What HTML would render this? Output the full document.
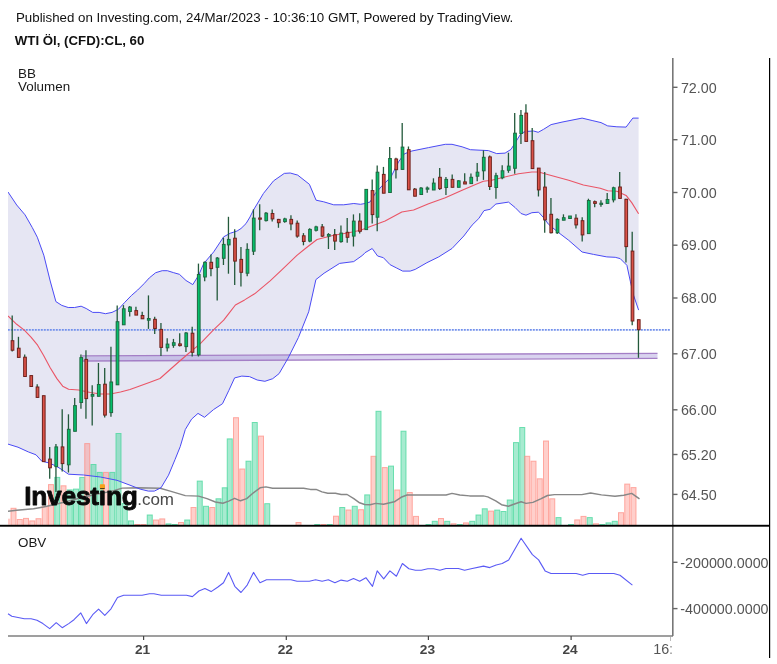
<!DOCTYPE html>
<html lang="de"><head><meta charset="utf-8"><title>WTI Öl, (CFD):CL, 60</title>
<style>
html,body{margin:0;padding:0;background:#fff;}
body{width:777px;height:664px;overflow:hidden;font-family:"Liberation Sans",Arial,sans-serif;}
svg{display:block;}
text{font-family:"Liberation Sans",Arial,sans-serif;}
.ax{fill:#555;font-size:14.3px;}
.day{fill:#444;font-size:13.7px;font-weight:bold;}
.lg{fill:#1a1a1a;font-size:13.4px;}
</style></head><body>
<svg width="777" height="664" viewBox="0 0 777 664">
<rect x="0" y="0" width="777" height="664" fill="#ffffff"/>
<defs><clipPath id="cp"><rect x="8" y="58" width="664" height="467"/></clipPath>
<clipPath id="cpx"><rect x="0" y="636" width="671.5" height="28"/></clipPath>
<clipPath id="cpy"><rect x="673" y="58" width="96" height="600"/></clipPath></defs>
<text x="16" y="21.6" font-size="13.3px" fill="#111">Published on Investing.com, 24/Mar/2023 - 10:36:10 GMT, Powered by TradingView.</text>
<text x="14.8" y="44.5" font-size="13.25px" font-weight="bold" fill="#111">WTI Öl, (CFD):CL, 60</text>
<g clip-path="url(#cp)">
<polygon points="8.0,192.0 16.7,205.0 25.0,214.8 32.2,227.4 37.3,237.2 43.8,255.2 50.2,281.0 55.9,301.6 61.8,305.4 68.2,307.5 74.6,307.5 81.1,306.2 86.2,308.5 92.7,312.4 99.1,312.4 105.5,313.7 112.0,312.4 118.4,309.3 124.8,302.3 131.3,295.6 137.7,290.0 144.1,283.6 149.3,277.9 155.7,272.7 162.2,270.7 167.3,270.7 173.7,272.7 179.4,274.3 186.0,280.5 192.8,284.6 198.6,275.3 203.7,263.6 213.7,251.9 223.7,236.8 230.4,233.2 237.1,231.0 241.0,228.5 246.0,223.6 250.0,217.0 253.4,210.2 263.4,193.5 273.5,180.9 284.3,173.4 290.2,173.0 297.7,175.1 309.4,184.3 316.1,200.2 323.7,201.8 333.7,204.8 343.7,204.8 353.8,203.5 360.5,204.3 365.0,203.5 370.0,202.0 375.1,193.7 381.8,186.1 391.0,176.9 398.5,161.9 404.4,153.8 411.9,151.0 428.6,147.6 445.3,144.3 452.0,144.3 462.1,146.8 470.4,149.7 480.0,150.2 488.4,150.6 496.7,153.6 505.1,153.1 511.0,149.4 516.8,140.2 521.0,133.5 525.2,131.5 533.6,131.0 538.2,132.3 543.6,129.3 551.1,124.6 562.0,122.1 582.1,118.1 592.1,120.5 601.0,122.6 607.7,125.9 616.9,126.8 626.1,127.1 632.8,118.1 638.6,118.1 638.6,310.1 633.6,295.4 630.3,281.2 626.9,265.3 620.2,258.6 615.2,257.3 606.8,256.9 593.5,254.4 582.1,252.0 568.7,240.3 558.7,232.7 548.6,224.4 543.6,217.7 538.6,212.2 531.9,212.7 526.0,215.2 521.0,213.5 515.2,207.6 508.5,202.1 495.9,204.0 490.1,209.3 484.0,210.6 478.8,218.5 472.1,225.1 463.8,236.0 452.0,248.5 438.7,256.9 426.9,262.7 415.2,269.4 410.2,271.1 402.7,271.1 396.8,268.1 390.1,264.7 383.4,257.7 377.6,256.0 372.2,248.5 365.0,252.7 362.8,255.1 353.7,261.6 339.6,263.4 324.1,273.2 315.9,279.6 308.7,311.8 298.4,337.5 288.1,358.1 279.1,373.6 272.7,378.7 264.9,381.3 257.2,380.0 249.5,376.6 241.8,376.1 234.6,377.9 228.9,390.3 222.5,403.7 213.5,409.6 204.5,417.3 198.0,413.4 191.6,419.1 185.3,429.5 180.2,446.7 175.0,459.6 168.5,475.2 161.0,487.8 154.3,491.1 148.4,491.1 140.1,489.1 130.0,485.2 117.0,480.3 100.4,477.0 83.6,475.0 68.4,474.2 62.2,469.8 56.0,466.0 48.5,462.8 41.8,461.2 36.0,454.8 28.3,451.9 18.0,447.2 8.0,444.1" fill="#e6e6f3"/>
<line x1="7.8" y1="329.8" x2="670" y2="329.8" stroke="#7391ec" stroke-width="1.7" stroke-dasharray="2,1"/>
<polygon points="82,356.2 657.5,353.6 657.5,358 82,360.6" fill="rgba(140,120,205,0.33)"/>
<line x1="82" y1="355.9" x2="657.5" y2="353.4" stroke="#a47fc6" stroke-width="1.35"/>
<line x1="82" y1="361" x2="657.5" y2="358.4" stroke="#a47fc6" stroke-width="1.35"/>
<rect x="8" y="518.7" width="2.2" height="6" fill="rgba(255,140,130,0.45)"/>
<rect x="11.00" y="508.3" width="5.00" height="17.2" fill="rgba(255,140,130,0.42)" stroke="rgba(255,140,130,0.7)" stroke-width="1"/>
<rect x="17.25" y="519.5" width="5.00" height="6.0" fill="rgba(255,140,130,0.42)" stroke="rgba(255,140,130,0.7)" stroke-width="1"/>
<rect x="23.50" y="518.4" width="5.00" height="7.1" fill="rgba(255,140,130,0.42)" stroke="rgba(255,140,130,0.7)" stroke-width="1"/>
<rect x="29.75" y="520.9" width="5.00" height="4.6" fill="rgba(255,140,130,0.42)" stroke="rgba(255,140,130,0.7)" stroke-width="1"/>
<rect x="36.00" y="518.7" width="5.00" height="6.8" fill="rgba(255,140,130,0.42)" stroke="rgba(255,140,130,0.7)" stroke-width="1"/>
<rect x="42.25" y="506.5" width="5.00" height="19.0" fill="rgba(255,140,130,0.42)" stroke="rgba(255,140,130,0.7)" stroke-width="1"/>
<rect x="48.50" y="484.6" width="5.00" height="40.9" fill="rgba(255,140,130,0.42)" stroke="rgba(255,140,130,0.7)" stroke-width="1"/>
<rect x="54.75" y="477.4" width="5.00" height="48.1" fill="rgba(60,210,150,0.45)" stroke="rgba(70,215,155,0.75)" stroke-width="1"/>
<rect x="61.00" y="485.8" width="5.00" height="39.7" fill="rgba(255,140,130,0.42)" stroke="rgba(255,140,130,0.7)" stroke-width="1"/>
<rect x="67.25" y="489.9" width="5.00" height="35.6" fill="rgba(60,210,150,0.45)" stroke="rgba(70,215,155,0.75)" stroke-width="1"/>
<rect x="73.50" y="489.1" width="5.00" height="36.4" fill="rgba(60,210,150,0.45)" stroke="rgba(70,215,155,0.75)" stroke-width="1"/>
<rect x="79.75" y="477.4" width="5.00" height="48.1" fill="rgba(60,210,150,0.45)" stroke="rgba(70,215,155,0.75)" stroke-width="1"/>
<rect x="84.75" y="443.6" width="5.00" height="81.9" fill="rgba(255,140,130,0.42)" stroke="rgba(255,140,130,0.7)" stroke-width="1"/>
<rect x="91.00" y="464.5" width="5.00" height="61.0" fill="rgba(60,210,150,0.45)" stroke="rgba(70,215,155,0.75)" stroke-width="1"/>
<rect x="97.25" y="472.4" width="5.00" height="53.1" fill="rgba(60,210,150,0.45)" stroke="rgba(70,215,155,0.75)" stroke-width="1"/>
<rect x="103.50" y="472.4" width="5.00" height="53.1" fill="rgba(255,140,130,0.42)" stroke="rgba(255,140,130,0.7)" stroke-width="1"/>
<rect x="109.75" y="472.4" width="5.00" height="53.1" fill="rgba(60,210,150,0.45)" stroke="rgba(70,215,155,0.75)" stroke-width="1"/>
<rect x="116.00" y="433.5" width="5.00" height="92.0" fill="rgba(60,210,150,0.45)" stroke="rgba(70,215,155,0.75)" stroke-width="1"/>
<rect x="122.25" y="503.5" width="5.00" height="22.0" fill="rgba(60,210,150,0.45)" stroke="rgba(70,215,155,0.75)" stroke-width="1"/>
<rect x="128.50" y="520.9" width="5.00" height="4.6" fill="rgba(60,210,150,0.45)" stroke="rgba(70,215,155,0.75)" stroke-width="1"/>
<rect x="134.75" y="524.5" width="5.00" height="1.0" fill="rgba(255,140,130,0.42)" stroke="rgba(255,140,130,0.7)" stroke-width="1"/>
<rect x="141.00" y="524.5" width="5.00" height="1.0" fill="rgba(255,140,130,0.42)" stroke="rgba(255,140,130,0.7)" stroke-width="1"/>
<rect x="147.25" y="515.0" width="5.00" height="10.5" fill="rgba(60,210,150,0.45)" stroke="rgba(70,215,155,0.75)" stroke-width="1"/>
<rect x="153.50" y="520.0" width="5.00" height="5.5" fill="rgba(255,140,130,0.42)" stroke="rgba(255,140,130,0.7)" stroke-width="1"/>
<rect x="159.75" y="518.9" width="5.00" height="6.6" fill="rgba(255,140,130,0.42)" stroke="rgba(255,140,130,0.7)" stroke-width="1"/>
<rect x="166.00" y="523.9" width="5.00" height="1.6" fill="rgba(60,210,150,0.45)" stroke="rgba(70,215,155,0.75)" stroke-width="1"/>
<rect x="172.25" y="524.5" width="5.00" height="1.0" fill="rgba(60,210,150,0.45)" stroke="rgba(70,215,155,0.75)" stroke-width="1"/>
<rect x="178.50" y="522.5" width="5.00" height="3.0" fill="rgba(255,140,130,0.42)" stroke="rgba(255,140,130,0.7)" stroke-width="1"/>
<rect x="184.75" y="520.0" width="5.00" height="5.5" fill="rgba(60,210,150,0.45)" stroke="rgba(70,215,155,0.75)" stroke-width="1"/>
<rect x="191.00" y="507.5" width="5.00" height="18.0" fill="rgba(255,140,130,0.42)" stroke="rgba(255,140,130,0.7)" stroke-width="1"/>
<rect x="197.25" y="481.1" width="5.00" height="44.4" fill="rgba(60,210,150,0.45)" stroke="rgba(70,215,155,0.75)" stroke-width="1"/>
<rect x="203.50" y="506.3" width="5.00" height="19.2" fill="rgba(60,210,150,0.45)" stroke="rgba(70,215,155,0.75)" stroke-width="1"/>
<rect x="209.75" y="507.5" width="5.00" height="18.0" fill="rgba(255,140,130,0.42)" stroke="rgba(255,140,130,0.7)" stroke-width="1"/>
<rect x="216.00" y="498.8" width="5.00" height="26.7" fill="rgba(60,210,150,0.45)" stroke="rgba(70,215,155,0.75)" stroke-width="1"/>
<rect x="222.25" y="487.8" width="5.00" height="37.7" fill="rgba(60,210,150,0.45)" stroke="rgba(70,215,155,0.75)" stroke-width="1"/>
<rect x="227.25" y="438.9" width="5.00" height="86.6" fill="rgba(60,210,150,0.45)" stroke="rgba(70,215,155,0.75)" stroke-width="1"/>
<rect x="233.50" y="417.7" width="5.00" height="107.8" fill="rgba(255,140,130,0.42)" stroke="rgba(255,140,130,0.7)" stroke-width="1"/>
<rect x="239.75" y="469.0" width="5.00" height="56.5" fill="rgba(255,140,130,0.42)" stroke="rgba(255,140,130,0.7)" stroke-width="1"/>
<rect x="246.00" y="461.2" width="5.00" height="64.3" fill="rgba(60,210,150,0.45)" stroke="rgba(70,215,155,0.75)" stroke-width="1"/>
<rect x="252.25" y="422.5" width="5.00" height="103.0" fill="rgba(60,210,150,0.45)" stroke="rgba(70,215,155,0.75)" stroke-width="1"/>
<rect x="258.50" y="436.1" width="5.00" height="89.4" fill="rgba(255,140,130,0.42)" stroke="rgba(255,140,130,0.7)" stroke-width="1"/>
<rect x="264.75" y="503.7" width="5.00" height="21.8" fill="rgba(60,210,150,0.45)" stroke="rgba(70,215,155,0.75)" stroke-width="1"/>
<rect x="296.00" y="522.5" width="5.00" height="3.0" fill="rgba(255,140,130,0.42)" stroke="rgba(255,140,130,0.7)" stroke-width="1"/>
<rect x="314.75" y="524.5" width="5.00" height="1.0" fill="rgba(60,210,150,0.45)" stroke="rgba(70,215,155,0.75)" stroke-width="1"/>
<rect x="321.00" y="524.5" width="5.00" height="1.0" fill="rgba(255,140,130,0.42)" stroke="rgba(255,140,130,0.7)" stroke-width="1"/>
<rect x="327.25" y="524.5" width="5.00" height="1.0" fill="rgba(60,210,150,0.45)" stroke="rgba(70,215,155,0.75)" stroke-width="1"/>
<rect x="333.50" y="516.2" width="5.00" height="9.3" fill="rgba(255,140,130,0.42)" stroke="rgba(255,140,130,0.7)" stroke-width="1"/>
<rect x="339.75" y="507.5" width="5.00" height="18.0" fill="rgba(60,210,150,0.45)" stroke="rgba(70,215,155,0.75)" stroke-width="1"/>
<rect x="346.00" y="510.0" width="5.00" height="15.5" fill="rgba(255,140,130,0.42)" stroke="rgba(255,140,130,0.7)" stroke-width="1"/>
<rect x="352.25" y="506.3" width="5.00" height="19.2" fill="rgba(60,210,150,0.45)" stroke="rgba(70,215,155,0.75)" stroke-width="1"/>
<rect x="358.50" y="509.7" width="5.00" height="15.8" fill="rgba(255,140,130,0.42)" stroke="rgba(255,140,130,0.7)" stroke-width="1"/>
<rect x="364.75" y="494.9" width="5.00" height="30.6" fill="rgba(60,210,150,0.45)" stroke="rgba(70,215,155,0.75)" stroke-width="1"/>
<rect x="371.00" y="456.3" width="5.00" height="69.2" fill="rgba(255,140,130,0.42)" stroke="rgba(255,140,130,0.7)" stroke-width="1"/>
<rect x="376.00" y="411.3" width="5.00" height="114.2" fill="rgba(60,210,150,0.45)" stroke="rgba(70,215,155,0.75)" stroke-width="1"/>
<rect x="382.25" y="467.6" width="5.00" height="57.9" fill="rgba(255,140,130,0.42)" stroke="rgba(255,140,130,0.7)" stroke-width="1"/>
<rect x="388.50" y="466.1" width="5.00" height="59.4" fill="rgba(60,210,150,0.45)" stroke="rgba(70,215,155,0.75)" stroke-width="1"/>
<rect x="394.75" y="490.0" width="5.00" height="35.5" fill="rgba(255,140,130,0.42)" stroke="rgba(255,140,130,0.7)" stroke-width="1"/>
<rect x="401.00" y="431.2" width="5.00" height="94.3" fill="rgba(60,210,150,0.45)" stroke="rgba(70,215,155,0.75)" stroke-width="1"/>
<rect x="407.25" y="492.5" width="5.00" height="33.0" fill="rgba(255,140,130,0.42)" stroke="rgba(255,140,130,0.7)" stroke-width="1"/>
<rect x="413.50" y="516.4" width="5.00" height="9.1" fill="rgba(255,140,130,0.42)" stroke="rgba(255,140,130,0.7)" stroke-width="1"/>
<rect x="426.00" y="524.5" width="5.00" height="1.0" fill="rgba(60,210,150,0.45)" stroke="rgba(70,215,155,0.75)" stroke-width="1"/>
<rect x="432.25" y="521.3" width="5.00" height="4.2" fill="rgba(60,210,150,0.45)" stroke="rgba(70,215,155,0.75)" stroke-width="1"/>
<rect x="438.50" y="518.5" width="5.00" height="7.0" fill="rgba(255,140,130,0.42)" stroke="rgba(255,140,130,0.7)" stroke-width="1"/>
<rect x="444.75" y="521.3" width="5.00" height="4.2" fill="rgba(60,210,150,0.45)" stroke="rgba(70,215,155,0.75)" stroke-width="1"/>
<rect x="451.00" y="523.8" width="5.00" height="1.7" fill="rgba(255,140,130,0.42)" stroke="rgba(255,140,130,0.7)" stroke-width="1"/>
<rect x="457.25" y="524.5" width="5.00" height="1.0" fill="rgba(60,210,150,0.45)" stroke="rgba(70,215,155,0.75)" stroke-width="1"/>
<rect x="463.50" y="522.9" width="5.00" height="2.6" fill="rgba(255,140,130,0.42)" stroke="rgba(255,140,130,0.7)" stroke-width="1"/>
<rect x="469.75" y="521.3" width="5.00" height="4.2" fill="rgba(60,210,150,0.45)" stroke="rgba(70,215,155,0.75)" stroke-width="1"/>
<rect x="476.00" y="515.0" width="5.00" height="10.5" fill="rgba(60,210,150,0.45)" stroke="rgba(70,215,155,0.75)" stroke-width="1"/>
<rect x="482.25" y="508.8" width="5.00" height="16.7" fill="rgba(60,210,150,0.45)" stroke="rgba(70,215,155,0.75)" stroke-width="1"/>
<rect x="488.50" y="511.1" width="5.00" height="14.4" fill="rgba(255,140,130,0.42)" stroke="rgba(255,140,130,0.7)" stroke-width="1"/>
<rect x="494.75" y="510.1" width="5.00" height="15.4" fill="rgba(60,210,150,0.45)" stroke="rgba(70,215,155,0.75)" stroke-width="1"/>
<rect x="501.00" y="511.5" width="5.00" height="14.0" fill="rgba(60,210,150,0.45)" stroke="rgba(70,215,155,0.75)" stroke-width="1"/>
<rect x="507.25" y="500.0" width="5.00" height="25.5" fill="rgba(60,210,150,0.45)" stroke="rgba(70,215,155,0.75)" stroke-width="1"/>
<rect x="513.50" y="442.6" width="5.00" height="82.9" fill="rgba(60,210,150,0.45)" stroke="rgba(70,215,155,0.75)" stroke-width="1"/>
<rect x="519.75" y="427.5" width="5.00" height="98.0" fill="rgba(60,210,150,0.45)" stroke="rgba(70,215,155,0.75)" stroke-width="1"/>
<rect x="524.75" y="456.3" width="5.00" height="69.2" fill="rgba(255,140,130,0.42)" stroke="rgba(255,140,130,0.7)" stroke-width="1"/>
<rect x="531.00" y="461.2" width="5.00" height="64.3" fill="rgba(255,140,130,0.42)" stroke="rgba(255,140,130,0.7)" stroke-width="1"/>
<rect x="537.25" y="478.8" width="5.00" height="46.7" fill="rgba(255,140,130,0.42)" stroke="rgba(255,140,130,0.7)" stroke-width="1"/>
<rect x="543.50" y="441.0" width="5.00" height="84.5" fill="rgba(255,140,130,0.42)" stroke="rgba(255,140,130,0.7)" stroke-width="1"/>
<rect x="549.75" y="498.8" width="5.00" height="26.7" fill="rgba(255,140,130,0.42)" stroke="rgba(255,140,130,0.7)" stroke-width="1"/>
<rect x="556.00" y="517.6" width="5.00" height="7.9" fill="rgba(60,210,150,0.45)" stroke="rgba(70,215,155,0.75)" stroke-width="1"/>
<rect x="568.50" y="524.5" width="5.00" height="1.0" fill="rgba(60,210,150,0.45)" stroke="rgba(70,215,155,0.75)" stroke-width="1"/>
<rect x="574.75" y="519.9" width="5.00" height="5.6" fill="rgba(255,140,130,0.42)" stroke="rgba(255,140,130,0.7)" stroke-width="1"/>
<rect x="581.00" y="516.4" width="5.00" height="9.1" fill="rgba(255,140,130,0.42)" stroke="rgba(255,140,130,0.7)" stroke-width="1"/>
<rect x="587.25" y="517.6" width="5.00" height="7.9" fill="rgba(60,210,150,0.45)" stroke="rgba(70,215,155,0.75)" stroke-width="1"/>
<rect x="593.50" y="523.8" width="5.00" height="1.7" fill="rgba(255,140,130,0.42)" stroke="rgba(255,140,130,0.7)" stroke-width="1"/>
<rect x="599.75" y="524.5" width="5.00" height="1.0" fill="rgba(60,210,150,0.45)" stroke="rgba(70,215,155,0.75)" stroke-width="1"/>
<rect x="606.00" y="522.9" width="5.00" height="2.6" fill="rgba(60,210,150,0.45)" stroke="rgba(70,215,155,0.75)" stroke-width="1"/>
<rect x="612.25" y="521.3" width="5.00" height="4.2" fill="rgba(60,210,150,0.45)" stroke="rgba(70,215,155,0.75)" stroke-width="1"/>
<rect x="618.50" y="512.7" width="5.00" height="12.8" fill="rgba(255,140,130,0.42)" stroke="rgba(255,140,130,0.7)" stroke-width="1"/>
<rect x="624.75" y="484.1" width="5.00" height="41.4" fill="rgba(255,140,130,0.42)" stroke="rgba(255,140,130,0.7)" stroke-width="1"/>
<rect x="631.00" y="487.6" width="5.00" height="37.9" fill="rgba(255,140,130,0.42)" stroke="rgba(255,140,130,0.7)" stroke-width="1"/>
<polyline points="8.0,511.2 16.7,510.3 33.5,508.7 43.5,507.0 53.5,504.8 65.0,502.0 80.0,498.0 95.0,494.5 111.3,491.4 122.2,488.1 137.5,487.7 160.2,488.3 170.2,491.1 185.3,495.6 198.6,496.1 207.0,498.6 215.4,502.0 222.9,503.2 228.7,501.1 234.6,498.3 240.5,500.8 246.7,498.6 253.4,492.8 260.1,487.8 265.9,486.9 272.6,488.3 303.6,488.3 310.3,489.4 316.1,489.4 322.0,491.9 327.8,493.3 335.4,493.3 341.2,494.5 347.1,494.5 353.8,498.6 359.6,502.8 364.6,504.5 370.0,504.8 375.7,503.4 383.5,504.3 394.3,501.8 401.1,497.3 407.0,495.0 446.1,495.0 452.0,493.4 459.8,495.0 469.6,495.9 483.3,495.9 487.8,496.9 495.7,500.8 501.5,504.7 508.4,506.3 515.2,503.8 521.1,501.8 526.0,503.4 532.9,502.4 540.7,498.9 547.5,495.5 554.4,494.6 581.8,494.6 590.6,493.0 601.4,494.9 615.0,496.3 623.8,495.3 631.7,493.4 639.5,498.9" fill="none" stroke="#878787" stroke-width="1.45" stroke-linejoin="round"/>
<polyline points="8.0,192.0 16.7,205.0 25.0,214.8 32.2,227.4 37.3,237.2 43.8,255.2 50.2,281.0 55.9,301.6 61.8,305.4 68.2,307.5 74.6,307.5 81.1,306.2 86.2,308.5 92.7,312.4 99.1,312.4 105.5,313.7 112.0,312.4 118.4,309.3 124.8,302.3 131.3,295.6 137.7,290.0 144.1,283.6 149.3,277.9 155.7,272.7 162.2,270.7 167.3,270.7 173.7,272.7 179.4,274.3 186.0,280.5 192.8,284.6 198.6,275.3 203.7,263.6 213.7,251.9 223.7,236.8 230.4,233.2 237.1,231.0 241.0,228.5 246.0,223.6 250.0,217.0 253.4,210.2 263.4,193.5 273.5,180.9 284.3,173.4 290.2,173.0 297.7,175.1 309.4,184.3 316.1,200.2 323.7,201.8 333.7,204.8 343.7,204.8 353.8,203.5 360.5,204.3 365.0,203.5 370.0,202.0 375.1,193.7 381.8,186.1 391.0,176.9 398.5,161.9 404.4,153.8 411.9,151.0 428.6,147.6 445.3,144.3 452.0,144.3 462.1,146.8 470.4,149.7 480.0,150.2 488.4,150.6 496.7,153.6 505.1,153.1 511.0,149.4 516.8,140.2 521.0,133.5 525.2,131.5 533.6,131.0 538.2,132.3 543.6,129.3 551.1,124.6 562.0,122.1 582.1,118.1 592.1,120.5 601.0,122.6 607.7,125.9 616.9,126.8 626.1,127.1 632.8,118.1 638.6,118.1" fill="none" stroke="#4a4af5" stroke-width="1.0" stroke-linejoin="round"/>
<polyline points="8.0,444.1 18.0,447.2 28.3,451.9 36.0,454.8 41.8,461.2 48.5,462.8 56.0,466.0 62.2,469.8 68.4,474.2 83.6,475.0 100.4,477.0 117.0,480.3 130.0,485.2 140.1,489.1 148.4,491.1 154.3,491.1 161.0,487.8 168.5,475.2 175.0,459.6 180.2,446.7 185.3,429.5 191.6,419.1 198.0,413.4 204.5,417.3 213.5,409.6 222.5,403.7 228.9,390.3 234.6,377.9 241.8,376.1 249.5,376.6 257.2,380.0 264.9,381.3 272.7,378.7 279.1,373.6 288.1,358.1 298.4,337.5 308.7,311.8 315.9,279.6 324.1,273.2 339.6,263.4 353.7,261.6 362.8,255.1 365.0,252.7 372.2,248.5 377.6,256.0 383.4,257.7 390.1,264.7 396.8,268.1 402.7,271.1 410.2,271.1 415.2,269.4 426.9,262.7 438.7,256.9 452.0,248.5 463.8,236.0 472.1,225.1 478.8,218.5 484.0,210.6 490.1,209.3 495.9,204.0 508.5,202.1 515.2,207.6 521.0,213.5 526.0,215.2 531.9,212.7 538.6,212.2 543.6,217.7 548.6,224.4 558.7,232.7 568.7,240.3 582.1,252.0 593.5,254.4 606.8,256.9 615.2,257.3 620.2,258.6 626.9,265.3 630.3,281.2 633.6,295.4 638.6,310.1" fill="none" stroke="#4a4af5" stroke-width="1.0" stroke-linejoin="round"/>
<polyline points="8.0,315.9 16.7,324.3 24.3,330.1 31.0,337.1 37.6,345.2 43.5,355.2 50.2,367.8 56.9,378.6 62.7,386.2 68.6,389.2 78.6,390.0 90.3,392.5 100.4,394.0 110.4,394.0 120.5,392.0 130.0,389.5 149.3,382.4 160.0,378.5 178.6,362.0 187.9,354.0 200.3,343.6 213.5,329.8 223.7,320.2 229.5,312.6 235.4,305.0 244.6,299.9 254.6,293.8 270.1,280.9 281.8,269.9 296.9,255.4 306.0,248.0 317.0,239.5 333.7,235.3 348.8,232.8 360.5,230.3 371.7,225.9 385.1,220.9 401.8,212.0 413.6,210.0 428.6,203.7 445.3,197.8 462.1,190.3 475.5,184.5 483.4,181.2 491.7,180.3 501.8,177.8 518.5,173.7 531.9,172.0 538.6,172.0 550.3,175.3 568.7,180.3 583.4,185.0 600.2,188.2 607.7,190.8 616.9,191.2 626.1,195.4 631.9,202.9 638.6,213.8" fill="none" stroke="#ea5566" stroke-width="1.1" stroke-linejoin="round"/>
<line x1="12.20" y1="315.4" x2="12.20" y2="351.5" stroke="#23593b" stroke-width="1.3"/>
<rect x="11.15" y="340.7" width="2.7" height="9.5" fill="#dc5248" stroke="#6e211c" stroke-width="1"/>
<line x1="18.45" y1="336.8" x2="18.45" y2="357.4" stroke="#23593b" stroke-width="1.3"/>
<rect x="17.40" y="348.2" width="2.7" height="9.2" fill="#dc5248" stroke="#6e211c" stroke-width="1"/>
<line x1="24.70" y1="354.4" x2="24.70" y2="376.5" stroke="#23593b" stroke-width="1.3"/>
<rect x="23.65" y="357.2" width="2.7" height="19.3" fill="#dc5248" stroke="#6e211c" stroke-width="1"/>
<line x1="30.95" y1="375.6" x2="30.95" y2="386.5" stroke="#23593b" stroke-width="1.3"/>
<rect x="29.90" y="375.6" width="2.7" height="10.9" fill="#dc5248" stroke="#6e211c" stroke-width="1"/>
<line x1="37.20" y1="384.2" x2="37.20" y2="397.4" stroke="#23593b" stroke-width="1.3"/>
<rect x="36.15" y="387.0" width="2.7" height="10.4" fill="#dc5248" stroke="#6e211c" stroke-width="1"/>
<line x1="43.45" y1="395.7" x2="43.45" y2="461.6" stroke="#23593b" stroke-width="1.3"/>
<rect x="42.40" y="395.7" width="2.7" height="65.9" fill="#dc5248" stroke="#6e211c" stroke-width="1"/>
<line x1="49.70" y1="446.9" x2="49.70" y2="478.7" stroke="#23593b" stroke-width="1.3"/>
<rect x="48.65" y="459.1" width="2.7" height="8.7" fill="#dc5248" stroke="#6e211c" stroke-width="1"/>
<line x1="55.95" y1="443.9" x2="55.95" y2="492.0" stroke="#23593b" stroke-width="1.3"/>
<rect x="54.90" y="446.9" width="2.7" height="19.7" fill="#04bf6b" stroke="#1e6940" stroke-width="1"/>
<line x1="62.20" y1="409.2" x2="62.20" y2="471.5" stroke="#23593b" stroke-width="1.3"/>
<rect x="61.15" y="446.9" width="2.7" height="16.7" fill="#dc5248" stroke="#6e211c" stroke-width="1"/>
<line x1="68.45" y1="414.3" x2="68.45" y2="472.5" stroke="#23593b" stroke-width="1.3"/>
<rect x="67.40" y="429.3" width="2.7" height="35.5" fill="#04bf6b" stroke="#1e6940" stroke-width="1"/>
<line x1="74.70" y1="397.9" x2="74.70" y2="431.3" stroke="#23593b" stroke-width="1.3"/>
<rect x="73.65" y="405.6" width="2.7" height="25.7" fill="#04bf6b" stroke="#1e6940" stroke-width="1"/>
<line x1="80.95" y1="354.4" x2="80.95" y2="408.7" stroke="#23593b" stroke-width="1.3"/>
<rect x="79.90" y="357.6" width="2.7" height="44.9" fill="#04bf6b" stroke="#1e6940" stroke-width="1"/>
<line x1="85.95" y1="350.2" x2="85.95" y2="418.8" stroke="#23593b" stroke-width="1.3"/>
<rect x="84.90" y="359.4" width="2.7" height="39.2" fill="#dc5248" stroke="#6e211c" stroke-width="1"/>
<line x1="92.20" y1="385.3" x2="92.20" y2="425.5" stroke="#23593b" stroke-width="1.3"/>
<rect x="91.15" y="394.5" width="2.7" height="1.7" fill="#04bf6b" stroke="#1e6940" stroke-width="1"/>
<line x1="98.45" y1="363.0" x2="98.45" y2="396.3" stroke="#23593b" stroke-width="1.3"/>
<rect x="97.40" y="384.5" width="2.7" height="11.8" fill="#04bf6b" stroke="#1e6940" stroke-width="1"/>
<line x1="104.70" y1="368.0" x2="104.70" y2="417.6" stroke="#23593b" stroke-width="1.3"/>
<rect x="103.65" y="384.2" width="2.7" height="30.9" fill="#dc5248" stroke="#6e211c" stroke-width="1"/>
<line x1="110.95" y1="346.8" x2="110.95" y2="416.8" stroke="#23593b" stroke-width="1.3"/>
<rect x="109.90" y="382.0" width="2.7" height="30.6" fill="#04bf6b" stroke="#1e6940" stroke-width="1"/>
<line x1="117.20" y1="305.4" x2="117.20" y2="384.8" stroke="#23593b" stroke-width="1.3"/>
<rect x="116.15" y="321.7" width="2.7" height="63.1" fill="#04bf6b" stroke="#1e6940" stroke-width="1"/>
<line x1="123.45" y1="305.1" x2="123.45" y2="324.8" stroke="#23593b" stroke-width="1.3"/>
<rect x="122.40" y="308.8" width="2.7" height="16.0" fill="#04bf6b" stroke="#1e6940" stroke-width="1"/>
<line x1="129.70" y1="305.9" x2="129.70" y2="316.5" stroke="#23593b" stroke-width="1.3"/>
<rect x="128.65" y="307.1" width="2.7" height="4.4" fill="#04bf6b" stroke="#1e6940" stroke-width="1"/>
<line x1="135.95" y1="306.8" x2="135.95" y2="315.1" stroke="#23593b" stroke-width="1.3"/>
<rect x="134.90" y="310.6" width="2.7" height="4.5" fill="#dc5248" stroke="#6e211c" stroke-width="1"/>
<line x1="142.20" y1="311.8" x2="142.20" y2="318.8" stroke="#23593b" stroke-width="1.3"/>
<rect x="141.15" y="315.5" width="2.7" height="3.3" fill="#dc5248" stroke="#6e211c" stroke-width="1"/>
<line x1="148.45" y1="295.4" x2="148.45" y2="328.9" stroke="#23593b" stroke-width="1.3"/>
<rect x="147.40" y="318.5" width="2.7" height="1.7" fill="#04bf6b" stroke="#1e6940" stroke-width="1"/>
<line x1="154.70" y1="316.8" x2="154.70" y2="333.9" stroke="#23593b" stroke-width="1.3"/>
<rect x="153.65" y="319.3" width="2.7" height="9.2" fill="#dc5248" stroke="#6e211c" stroke-width="1"/>
<line x1="160.95" y1="323.0" x2="160.95" y2="356.1" stroke="#23593b" stroke-width="1.3"/>
<rect x="159.90" y="329.4" width="2.7" height="18.0" fill="#dc5248" stroke="#6e211c" stroke-width="1"/>
<line x1="167.20" y1="338.2" x2="167.20" y2="351.4" stroke="#23593b" stroke-width="1.3"/>
<rect x="166.15" y="344.1" width="2.7" height="3.7" fill="#04bf6b" stroke="#1e6940" stroke-width="1"/>
<line x1="173.45" y1="338.9" x2="173.45" y2="347.8" stroke="#23593b" stroke-width="1.3"/>
<rect x="172.40" y="342.7" width="2.7" height="2.6" fill="#04bf6b" stroke="#1e6940" stroke-width="1"/>
<line x1="179.70" y1="333.2" x2="179.70" y2="346.4" stroke="#23593b" stroke-width="1.3"/>
<rect x="178.65" y="343.9" width="2.7" height="1.7" fill="#dc5248" stroke="#6e211c" stroke-width="1"/>
<line x1="185.95" y1="331.9" x2="185.95" y2="351.9" stroke="#23593b" stroke-width="1.3"/>
<rect x="184.90" y="333.0" width="2.7" height="13.6" fill="#04bf6b" stroke="#1e6940" stroke-width="1"/>
<line x1="192.20" y1="326.8" x2="192.20" y2="356.6" stroke="#23593b" stroke-width="1.3"/>
<rect x="191.15" y="333.2" width="2.7" height="19.1" fill="#dc5248" stroke="#6e211c" stroke-width="1"/>
<line x1="198.45" y1="263.6" x2="198.45" y2="356.5" stroke="#23593b" stroke-width="1.3"/>
<rect x="197.40" y="274.5" width="2.7" height="80.3" fill="#04bf6b" stroke="#1e6940" stroke-width="1"/>
<line x1="204.70" y1="261.6" x2="204.70" y2="281.2" stroke="#23593b" stroke-width="1.3"/>
<rect x="203.65" y="262.3" width="2.7" height="14.7" fill="#04bf6b" stroke="#1e6940" stroke-width="1"/>
<line x1="210.95" y1="254.4" x2="210.95" y2="276.2" stroke="#23593b" stroke-width="1.3"/>
<rect x="209.90" y="262.3" width="2.7" height="6.3" fill="#dc5248" stroke="#6e211c" stroke-width="1"/>
<line x1="217.20" y1="256.9" x2="217.20" y2="300.4" stroke="#23593b" stroke-width="1.3"/>
<rect x="216.15" y="258.1" width="2.7" height="9.2" fill="#04bf6b" stroke="#1e6940" stroke-width="1"/>
<line x1="223.45" y1="237.7" x2="223.45" y2="265.0" stroke="#23593b" stroke-width="1.3"/>
<rect x="222.40" y="244.4" width="2.7" height="13.9" fill="#04bf6b" stroke="#1e6940" stroke-width="1"/>
<line x1="228.45" y1="216.8" x2="228.45" y2="273.7" stroke="#23593b" stroke-width="1.3"/>
<rect x="227.40" y="239.4" width="2.7" height="5.5" fill="#04bf6b" stroke="#1e6940" stroke-width="1"/>
<line x1="234.70" y1="229.3" x2="234.70" y2="284.9" stroke="#23593b" stroke-width="1.3"/>
<rect x="233.65" y="238.2" width="2.7" height="22.9" fill="#dc5248" stroke="#6e211c" stroke-width="1"/>
<line x1="240.95" y1="246.9" x2="240.95" y2="286.5" stroke="#23593b" stroke-width="1.3"/>
<rect x="239.90" y="259.4" width="2.7" height="12.9" fill="#dc5248" stroke="#6e211c" stroke-width="1"/>
<line x1="247.20" y1="243.2" x2="247.20" y2="276.2" stroke="#23593b" stroke-width="1.3"/>
<rect x="246.15" y="249.4" width="2.7" height="23.8" fill="#04bf6b" stroke="#1e6940" stroke-width="1"/>
<line x1="253.45" y1="209.4" x2="253.45" y2="255.0" stroke="#23593b" stroke-width="1.3"/>
<rect x="252.40" y="218.1" width="2.7" height="33.1" fill="#04bf6b" stroke="#1e6940" stroke-width="1"/>
<line x1="259.70" y1="204.3" x2="259.70" y2="230.3" stroke="#23593b" stroke-width="1.3"/>
<rect x="258.65" y="218.0" width="2.7" height="1.2" fill="#dc5248" stroke="#6e211c" stroke-width="1"/>
<line x1="265.95" y1="211.9" x2="265.95" y2="221.6" stroke="#23593b" stroke-width="1.3"/>
<rect x="264.90" y="213.2" width="2.7" height="7.4" fill="#04bf6b" stroke="#1e6940" stroke-width="1"/>
<line x1="272.20" y1="209.4" x2="272.20" y2="221.6" stroke="#23593b" stroke-width="1.3"/>
<rect x="271.15" y="213.5" width="2.7" height="5.4" fill="#dc5248" stroke="#6e211c" stroke-width="1"/>
<line x1="278.45" y1="218.9" x2="278.45" y2="227.8" stroke="#23593b" stroke-width="1.3"/>
<rect x="277.40" y="219.4" width="2.7" height="3.3" fill="#dc5248" stroke="#6e211c" stroke-width="1"/>
<line x1="284.70" y1="217.7" x2="284.70" y2="222.7" stroke="#23593b" stroke-width="1.3"/>
<rect x="283.65" y="218.9" width="2.7" height="2.7" fill="#04bf6b" stroke="#1e6940" stroke-width="1"/>
<line x1="290.95" y1="215.2" x2="290.95" y2="230.3" stroke="#23593b" stroke-width="1.3"/>
<rect x="289.90" y="219.4" width="2.7" height="4.5" fill="#dc5248" stroke="#6e211c" stroke-width="1"/>
<line x1="297.20" y1="220.6" x2="297.20" y2="237.8" stroke="#23593b" stroke-width="1.3"/>
<rect x="296.15" y="223.2" width="2.7" height="12.9" fill="#dc5248" stroke="#6e211c" stroke-width="1"/>
<line x1="303.45" y1="233.1" x2="303.45" y2="245.3" stroke="#23593b" stroke-width="1.3"/>
<rect x="302.40" y="235.8" width="2.7" height="5.7" fill="#dc5248" stroke="#6e211c" stroke-width="1"/>
<line x1="309.70" y1="228.3" x2="309.70" y2="242.3" stroke="#23593b" stroke-width="1.3"/>
<rect x="308.65" y="229.4" width="2.7" height="11.7" fill="#04bf6b" stroke="#1e6940" stroke-width="1"/>
<line x1="315.95" y1="225.8" x2="315.95" y2="231.6" stroke="#23593b" stroke-width="1.3"/>
<rect x="314.90" y="226.9" width="2.7" height="3.4" fill="#04bf6b" stroke="#1e6940" stroke-width="1"/>
<line x1="322.20" y1="223.9" x2="322.20" y2="237.0" stroke="#23593b" stroke-width="1.3"/>
<rect x="321.15" y="226.9" width="2.7" height="9.2" fill="#dc5248" stroke="#6e211c" stroke-width="1"/>
<line x1="328.45" y1="233.1" x2="328.45" y2="249.0" stroke="#23593b" stroke-width="1.3"/>
<rect x="327.40" y="234.5" width="2.7" height="1.6" fill="#04bf6b" stroke="#1e6940" stroke-width="1"/>
<line x1="334.70" y1="229.1" x2="334.70" y2="250.0" stroke="#23593b" stroke-width="1.3"/>
<rect x="333.65" y="234.8" width="2.7" height="6.3" fill="#dc5248" stroke="#6e211c" stroke-width="1"/>
<line x1="340.95" y1="225.6" x2="340.95" y2="242.8" stroke="#23593b" stroke-width="1.3"/>
<rect x="339.90" y="233.1" width="2.7" height="8.5" fill="#04bf6b" stroke="#1e6940" stroke-width="1"/>
<line x1="347.20" y1="218.1" x2="347.20" y2="242.8" stroke="#23593b" stroke-width="1.3"/>
<rect x="346.15" y="232.3" width="2.7" height="5.0" fill="#dc5248" stroke="#6e211c" stroke-width="1"/>
<line x1="353.45" y1="214.4" x2="353.45" y2="246.5" stroke="#23593b" stroke-width="1.3"/>
<rect x="352.40" y="221.1" width="2.7" height="15.0" fill="#04bf6b" stroke="#1e6940" stroke-width="1"/>
<line x1="359.70" y1="213.2" x2="359.70" y2="233.6" stroke="#23593b" stroke-width="1.3"/>
<rect x="358.65" y="221.1" width="2.7" height="10.2" fill="#dc5248" stroke="#6e211c" stroke-width="1"/>
<line x1="365.95" y1="189.4" x2="365.95" y2="229.6" stroke="#23593b" stroke-width="1.3"/>
<rect x="364.90" y="189.4" width="2.7" height="40.2" fill="#04bf6b" stroke="#1e6940" stroke-width="1"/>
<line x1="372.20" y1="179.4" x2="372.20" y2="223.4" stroke="#23593b" stroke-width="1.3"/>
<rect x="371.15" y="190.6" width="2.7" height="24.0" fill="#dc5248" stroke="#6e211c" stroke-width="1"/>
<line x1="377.20" y1="165.5" x2="377.20" y2="231.3" stroke="#23593b" stroke-width="1.3"/>
<rect x="376.15" y="172.2" width="2.7" height="45.0" fill="#04bf6b" stroke="#1e6940" stroke-width="1"/>
<line x1="383.45" y1="166.9" x2="383.45" y2="193.2" stroke="#23593b" stroke-width="1.3"/>
<rect x="382.40" y="174.4" width="2.7" height="18.8" fill="#dc5248" stroke="#6e211c" stroke-width="1"/>
<line x1="389.70" y1="147.1" x2="389.70" y2="192.5" stroke="#23593b" stroke-width="1.3"/>
<rect x="388.65" y="158.5" width="2.7" height="34.0" fill="#04bf6b" stroke="#1e6940" stroke-width="1"/>
<line x1="395.95" y1="157.7" x2="395.95" y2="178.6" stroke="#23593b" stroke-width="1.3"/>
<rect x="394.90" y="159.0" width="2.7" height="10.7" fill="#dc5248" stroke="#6e211c" stroke-width="1"/>
<line x1="402.20" y1="123.1" x2="402.20" y2="169.4" stroke="#23593b" stroke-width="1.3"/>
<rect x="401.15" y="147.1" width="2.7" height="22.3" fill="#04bf6b" stroke="#1e6940" stroke-width="1"/>
<line x1="408.45" y1="146.5" x2="408.45" y2="189.8" stroke="#23593b" stroke-width="1.3"/>
<rect x="407.40" y="149.7" width="2.7" height="40.1" fill="#dc5248" stroke="#6e211c" stroke-width="1"/>
<line x1="414.70" y1="188.1" x2="414.70" y2="196.2" stroke="#23593b" stroke-width="1.3"/>
<rect x="413.65" y="189.1" width="2.7" height="7.1" fill="#dc5248" stroke="#6e211c" stroke-width="1"/>
<line x1="420.95" y1="187.0" x2="420.95" y2="194.5" stroke="#23593b" stroke-width="1.3"/>
<rect x="419.90" y="188.1" width="2.7" height="6.4" fill="#04bf6b" stroke="#1e6940" stroke-width="1"/>
<line x1="427.20" y1="186.6" x2="427.20" y2="192.8" stroke="#23593b" stroke-width="1.3"/>
<rect x="426.15" y="188.0" width="2.7" height="1.2" fill="#04bf6b" stroke="#1e6940" stroke-width="1"/>
<line x1="433.45" y1="178.3" x2="433.45" y2="190.0" stroke="#23593b" stroke-width="1.3"/>
<rect x="432.40" y="183.1" width="2.7" height="6.9" fill="#04bf6b" stroke="#1e6940" stroke-width="1"/>
<line x1="439.70" y1="168.1" x2="439.70" y2="190.0" stroke="#23593b" stroke-width="1.3"/>
<rect x="438.65" y="177.3" width="2.7" height="11.3" fill="#dc5248" stroke="#6e211c" stroke-width="1"/>
<line x1="445.95" y1="176.9" x2="445.95" y2="195.0" stroke="#23593b" stroke-width="1.3"/>
<rect x="444.90" y="179.4" width="2.7" height="8.1" fill="#04bf6b" stroke="#1e6940" stroke-width="1"/>
<line x1="452.20" y1="174.4" x2="452.20" y2="187.3" stroke="#23593b" stroke-width="1.3"/>
<rect x="451.15" y="179.4" width="2.7" height="7.9" fill="#dc5248" stroke="#6e211c" stroke-width="1"/>
<line x1="458.45" y1="180.3" x2="458.45" y2="187.3" stroke="#23593b" stroke-width="1.3"/>
<rect x="457.40" y="180.8" width="2.7" height="6.5" fill="#04bf6b" stroke="#1e6940" stroke-width="1"/>
<line x1="464.70" y1="173.2" x2="464.70" y2="184.0" stroke="#23593b" stroke-width="1.3"/>
<rect x="463.65" y="181.9" width="2.7" height="2.1" fill="#dc5248" stroke="#6e211c" stroke-width="1"/>
<line x1="470.95" y1="173.6" x2="470.95" y2="183.6" stroke="#23593b" stroke-width="1.3"/>
<rect x="469.90" y="177.3" width="2.7" height="6.3" fill="#04bf6b" stroke="#1e6940" stroke-width="1"/>
<line x1="477.20" y1="163.1" x2="477.20" y2="181.3" stroke="#23593b" stroke-width="1.3"/>
<rect x="476.15" y="172.2" width="2.7" height="4.0" fill="#04bf6b" stroke="#1e6940" stroke-width="1"/>
<line x1="483.45" y1="150.4" x2="483.45" y2="179.9" stroke="#23593b" stroke-width="1.3"/>
<rect x="482.40" y="157.3" width="2.7" height="13.5" fill="#04bf6b" stroke="#1e6940" stroke-width="1"/>
<line x1="489.70" y1="155.6" x2="489.70" y2="190.0" stroke="#23593b" stroke-width="1.3"/>
<rect x="488.65" y="156.9" width="2.7" height="29.6" fill="#dc5248" stroke="#6e211c" stroke-width="1"/>
<line x1="495.95" y1="172.8" x2="495.95" y2="198.8" stroke="#23593b" stroke-width="1.3"/>
<rect x="494.90" y="175.7" width="2.7" height="11.8" fill="#04bf6b" stroke="#1e6940" stroke-width="1"/>
<line x1="502.20" y1="165.3" x2="502.20" y2="179.2" stroke="#23593b" stroke-width="1.3"/>
<rect x="501.15" y="170.8" width="2.7" height="7.0" fill="#04bf6b" stroke="#1e6940" stroke-width="1"/>
<line x1="508.45" y1="152.7" x2="508.45" y2="172.8" stroke="#23593b" stroke-width="1.3"/>
<rect x="507.40" y="166.1" width="2.7" height="4.2" fill="#04bf6b" stroke="#1e6940" stroke-width="1"/>
<line x1="514.70" y1="113.1" x2="514.70" y2="173.7" stroke="#23593b" stroke-width="1.3"/>
<rect x="513.65" y="133.2" width="2.7" height="35.1" fill="#04bf6b" stroke="#1e6940" stroke-width="1"/>
<line x1="520.95" y1="110.1" x2="520.95" y2="143.9" stroke="#23593b" stroke-width="1.3"/>
<rect x="519.90" y="115.4" width="2.7" height="18.1" fill="#04bf6b" stroke="#1e6940" stroke-width="1"/>
<line x1="525.95" y1="104.2" x2="525.95" y2="141.4" stroke="#23593b" stroke-width="1.3"/>
<rect x="524.90" y="113.1" width="2.7" height="28.3" fill="#dc5248" stroke="#6e211c" stroke-width="1"/>
<line x1="532.20" y1="128.0" x2="532.20" y2="168.6" stroke="#23593b" stroke-width="1.3"/>
<rect x="531.15" y="140.7" width="2.7" height="27.9" fill="#dc5248" stroke="#6e211c" stroke-width="1"/>
<line x1="538.45" y1="168.1" x2="538.45" y2="196.5" stroke="#23593b" stroke-width="1.3"/>
<rect x="537.40" y="168.1" width="2.7" height="21.8" fill="#dc5248" stroke="#6e211c" stroke-width="1"/>
<line x1="544.70" y1="172.0" x2="544.70" y2="232.7" stroke="#23593b" stroke-width="1.3"/>
<rect x="543.65" y="187.1" width="2.7" height="32.8" fill="#dc5248" stroke="#6e211c" stroke-width="1"/>
<line x1="550.95" y1="198.1" x2="550.95" y2="233.6" stroke="#23593b" stroke-width="1.3"/>
<rect x="549.90" y="214.3" width="2.7" height="18.4" fill="#dc5248" stroke="#6e211c" stroke-width="1"/>
<line x1="557.20" y1="218.2" x2="557.20" y2="233.9" stroke="#23593b" stroke-width="1.3"/>
<rect x="556.15" y="219.4" width="2.7" height="13.3" fill="#04bf6b" stroke="#1e6940" stroke-width="1"/>
<line x1="563.45" y1="214.3" x2="563.45" y2="220.2" stroke="#23593b" stroke-width="1.3"/>
<rect x="562.40" y="217.7" width="2.7" height="2.5" fill="#04bf6b" stroke="#1e6940" stroke-width="1"/>
<line x1="569.70" y1="216.0" x2="569.70" y2="218.5" stroke="#23593b" stroke-width="1.3"/>
<rect x="568.65" y="216.0" width="2.7" height="2.5" fill="#04bf6b" stroke="#1e6940" stroke-width="1"/>
<line x1="575.95" y1="214.3" x2="575.95" y2="228.6" stroke="#23593b" stroke-width="1.3"/>
<rect x="574.90" y="218.2" width="2.7" height="6.7" fill="#dc5248" stroke="#6e211c" stroke-width="1"/>
<line x1="582.20" y1="217.2" x2="582.20" y2="241.4" stroke="#23593b" stroke-width="1.3"/>
<rect x="581.15" y="220.7" width="2.7" height="14.2" fill="#dc5248" stroke="#6e211c" stroke-width="1"/>
<line x1="588.45" y1="198.7" x2="588.45" y2="233.6" stroke="#23593b" stroke-width="1.3"/>
<rect x="587.40" y="200.5" width="2.7" height="33.1" fill="#04bf6b" stroke="#1e6940" stroke-width="1"/>
<line x1="594.70" y1="200.4" x2="594.70" y2="207.3" stroke="#23593b" stroke-width="1.3"/>
<rect x="593.65" y="201.7" width="2.7" height="1.7" fill="#dc5248" stroke="#6e211c" stroke-width="1"/>
<line x1="600.95" y1="200.2" x2="600.95" y2="206.7" stroke="#23593b" stroke-width="1.3"/>
<rect x="599.90" y="203.2" width="2.7" height="1.2" fill="#04bf6b" stroke="#1e6940" stroke-width="1"/>
<line x1="607.20" y1="192.9" x2="607.20" y2="203.4" stroke="#23593b" stroke-width="1.3"/>
<rect x="606.15" y="199.5" width="2.7" height="3.9" fill="#04bf6b" stroke="#1e6940" stroke-width="1"/>
<line x1="613.45" y1="186.7" x2="613.45" y2="202.4" stroke="#23593b" stroke-width="1.3"/>
<rect x="612.40" y="187.8" width="2.7" height="12.1" fill="#04bf6b" stroke="#1e6940" stroke-width="1"/>
<line x1="619.70" y1="171.9" x2="619.70" y2="198.4" stroke="#23593b" stroke-width="1.3"/>
<rect x="618.65" y="187.0" width="2.7" height="11.4" fill="#dc5248" stroke="#6e211c" stroke-width="1"/>
<line x1="625.95" y1="198.7" x2="625.95" y2="262.4" stroke="#23593b" stroke-width="1.3"/>
<rect x="624.90" y="199.3" width="2.7" height="47.3" fill="#dc5248" stroke="#6e211c" stroke-width="1"/>
<line x1="632.20" y1="231.8" x2="632.20" y2="325.2" stroke="#23593b" stroke-width="1.3"/>
<rect x="631.15" y="251.1" width="2.7" height="69.9" fill="#dc5248" stroke="#6e211c" stroke-width="1"/>
<line x1="638.45" y1="319.7" x2="638.45" y2="357.8" stroke="#23593b" stroke-width="1.3"/>
<rect x="637.40" y="319.7" width="2.7" height="10.0" fill="#dc5248" stroke="#6e211c" stroke-width="1"/>
</g>
<defs><clipPath id="idot"><rect x="92" y="478" width="14" height="11.5"/></clipPath></defs>
<g transform="translate(24.2 504.5) scale(1.055 1)">
<text x="0" y="0" font-size="25px" font-weight="bold" fill="#0a0a0a" stroke="#0a0a0a" stroke-width="0.8" stroke-linejoin="round" style="letter-spacing:-0.25px">Investing</text>
<g transform="translate(-24.2 -504.5)" clip-path="url(#idot)"><text x="24.2" y="504.5" font-size="25px" font-weight="bold" fill="#f7a21b" stroke="#f7a21b" stroke-width="1.4" stroke-linejoin="round" style="letter-spacing:-0.25px"><tspan fill="none" stroke="none">Invest</tspan>i</text></g>
</g>
<text x="137.2" y="504.5" font-size="17px" fill="#4a4a4a">.com</text>
<text class="lg" x="18" y="77.5">BB</text>
<text class="lg" x="18" y="90.5">Volumen</text>
<text class="lg" x="18" y="546.5">OBV</text>
<polyline points="8.0,613.8 11.8,616.2 24.3,618.8 31.1,618.8 37.0,620.3 42.9,623.6 49.7,628.6 56.2,622.7 62.2,627.7 68.7,623.6 74.0,619.7 80.8,612.9 86.4,623.6 92.7,614.7 98.6,609.1 104.8,615.3 111.0,608.8 117.5,597.5 123.7,595.2 142.1,595.2 149.5,593.7 153.9,593.7 161.3,595.2 186.5,595.2 192.4,596.6 198.9,591.0 204.9,588.6 211.1,591.6 217.6,587.2 223.5,582.7 228.6,572.4 234.8,586.3 241.0,592.5 247.2,585.1 253.5,572.4 260.0,582.7 266.5,579.8 291.0,579.8 297.0,581.2 309.4,581.2 315.6,579.8 322.1,581.2 328.3,579.8 334.9,582.7 341.1,580.1 347.3,581.2 353.5,578.6 359.7,581.2 365.9,577.7 372.5,586.3 377.2,570.9 383.7,578.9 389.9,570.9 396.4,576.2 402.4,563.5 408.9,568.8 415.4,570.3 421.3,570.3 427.8,568.8 433.7,568.8 439.9,570.3 445.9,568.5 458.4,568.5 464.6,570.3 471.1,568.8 483.5,566.1 489.7,567.6 496.2,565.0 502.2,563.5 508.7,559.9 521.1,538.3 532.4,554.6 538.6,559.9 545.1,570.9 551.0,573.5 576.2,573.5 582.7,575.3 588.9,573.5 613.8,573.5 620.0,575.3 632.4,585.1" fill="none" stroke="#5a5af5" stroke-width="1.1" stroke-linejoin="round"/>
<rect x="672" y="58" width="1.6" height="578" fill="#777"/>
<rect x="8" y="635.3" width="665" height="1.4" fill="#777"/>
<rect x="0" y="524.8" width="770" height="1.9" fill="#000"/>
<rect x="769" y="58" width="1.2" height="600" fill="#000"/>
<g clip-path="url(#cpy)">
<rect x="673" y="86.6" width="4.5" height="1.4" fill="#666"/>
<text class="ax" x="680.9" y="92.5">72.00</text>
<rect x="673" y="139.0" width="4.5" height="1.4" fill="#666"/>
<text class="ax" x="680.9" y="144.9">71.00</text>
<rect x="673" y="191.8" width="4.5" height="1.4" fill="#666"/>
<text class="ax" x="680.9" y="197.7">70.00</text>
<rect x="673" y="244.5" width="4.5" height="1.4" fill="#666"/>
<text class="ax" x="680.9" y="250.4">69.00</text>
<rect x="673" y="297.3" width="4.5" height="1.4" fill="#666"/>
<text class="ax" x="680.9" y="303.2">68.00</text>
<rect x="673" y="353.1" width="4.5" height="1.4" fill="#666"/>
<text class="ax" x="680.9" y="359.0">67.00</text>
<rect x="673" y="409.1" width="4.5" height="1.4" fill="#666"/>
<text class="ax" x="680.9" y="415.0">66.00</text>
<rect x="673" y="453.8" width="4.5" height="1.4" fill="#666"/>
<text class="ax" x="680.9" y="459.7">65.20</text>
<rect x="673" y="493.7" width="4.5" height="1.4" fill="#666"/>
<text class="ax" x="680.9" y="499.6">64.50</text>
<rect x="673" y="561.6" width="4.5" height="1.4" fill="#666"/>
<text class="ax" x="680.3" y="567.5">-200000.0000</text>
<rect x="673" y="607.9" width="4.5" height="1.4" fill="#666"/>
<text class="ax" x="680.3" y="613.8">-400000.0000</text>
</g>
<rect x="143.0" y="636" width="1.2" height="4" fill="#444"/>
<text class="day" x="142.6" y="654.2" text-anchor="middle">21</text>
<rect x="285.7" y="636" width="1.2" height="4" fill="#444"/>
<text class="day" x="285.3" y="654.2" text-anchor="middle">22</text>
<rect x="427.8" y="636" width="1.2" height="4" fill="#444"/>
<text class="day" x="427.4" y="654.2" text-anchor="middle">23</text>
<rect x="570.5" y="636" width="1.2" height="4" fill="#444"/>
<text class="day" x="570.1" y="654.2" text-anchor="middle">24</text>
<rect x="670" y="637" width="1" height="4" fill="#bbb"/>
<g clip-path="url(#cpx)"><text class="ax" x="653.3" y="654.3" fill="#555">16:</text></g>
</svg>
</body></html>
